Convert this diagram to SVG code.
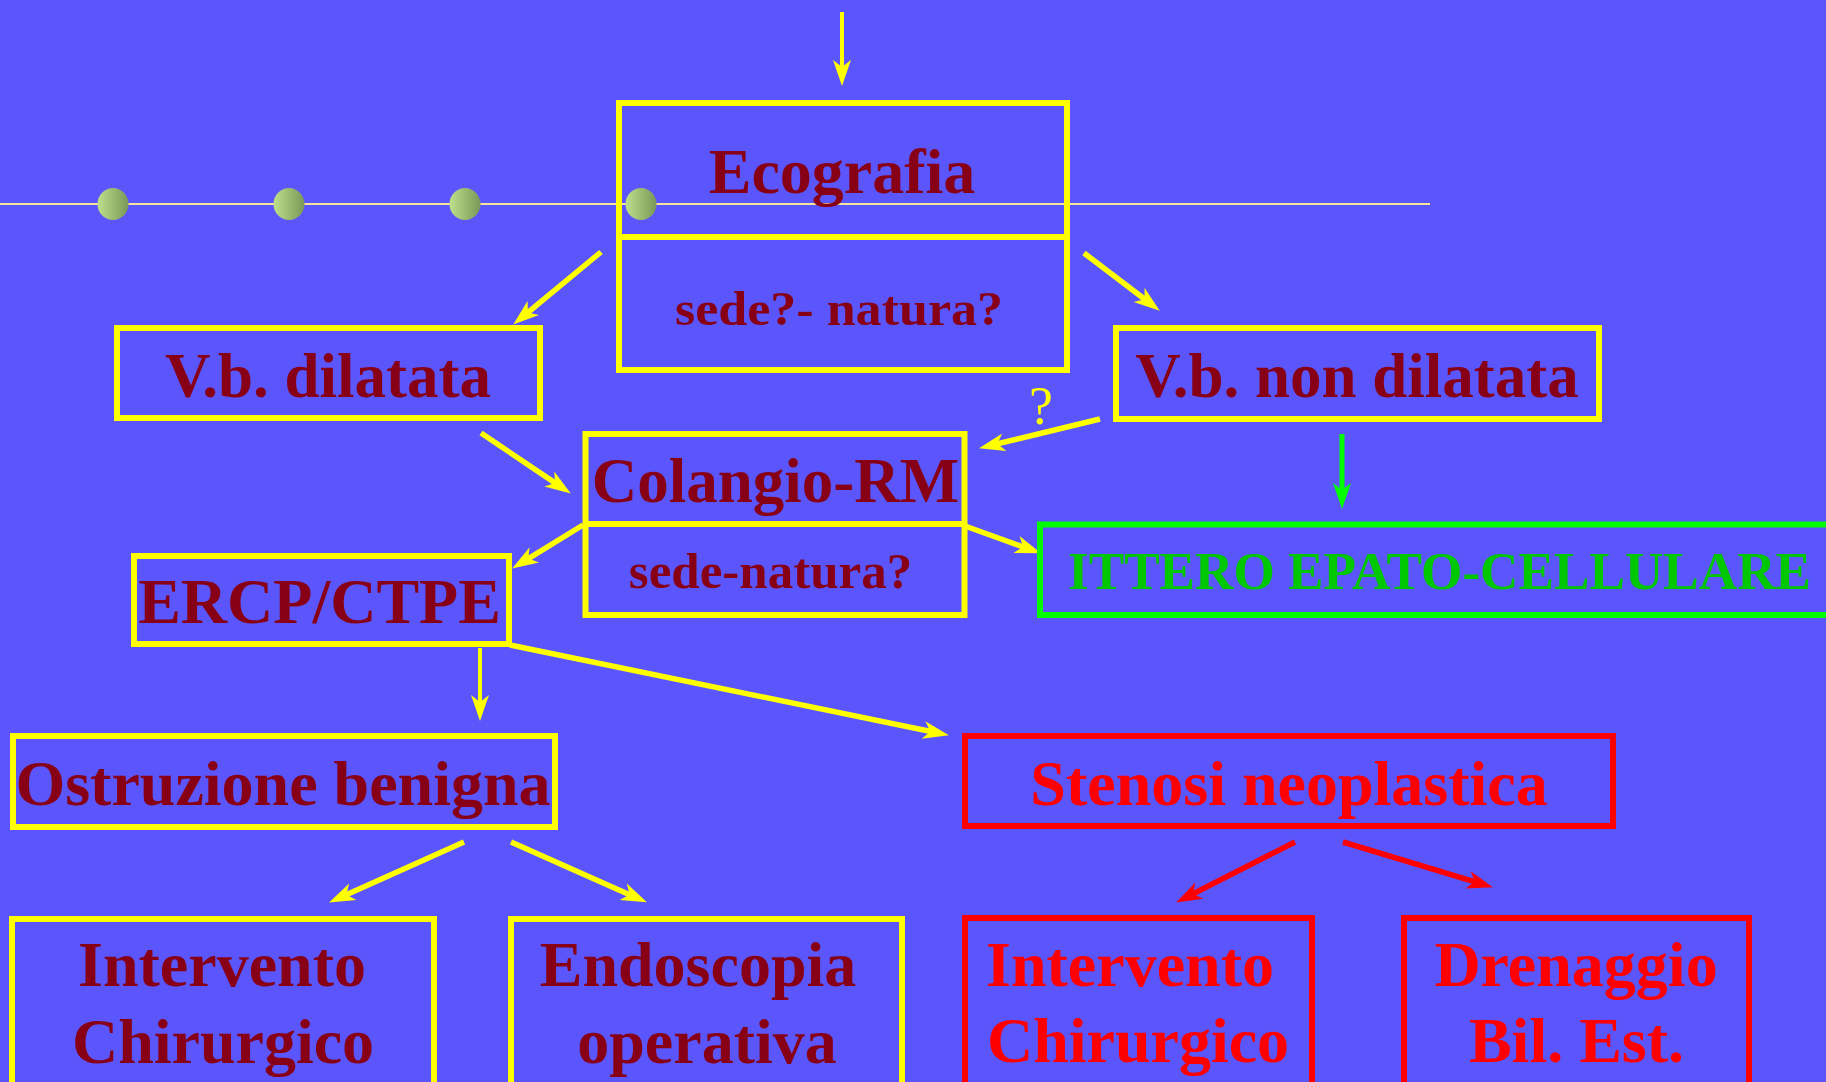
<svg xmlns="http://www.w3.org/2000/svg" width="1826" height="1082" viewBox="0 0 1826 1082">
<defs>
<style>
.bg{fill:#5b56fb}
.yb{fill:none;stroke:#ffff00;stroke-width:6}
.rb{fill:none;stroke:#ff0000;stroke-width:6}
.gb{fill:none;stroke:#00ff00;stroke-width:6}
.t{font-family:"Liberation Serif","Times New Roman",serif;font-weight:bold;text-anchor:middle}
.dr{fill:#880015}
.rd{fill:#ff0000}
.gt{fill:#00c800}
.ya{fill:none;stroke:#ffff00;stroke-width:5.5}
.yt{fill:none;stroke:#ffff00;stroke-width:4}
.ra{fill:none;stroke:#ff0000;stroke-width:5.5}
.ga{fill:none;stroke:#00ff00;stroke-width:5}
</style>
<marker id="ahY" markerUnits="userSpaceOnUse" markerWidth="28" markerHeight="20" refX="15" refY="9" orient="auto" overflow="visible">
<path d="M26,9 L0,0 L7,9 L0,18 Z" fill="#ffff00"/>
</marker>
<marker id="ahR" markerUnits="userSpaceOnUse" markerWidth="28" markerHeight="20" refX="15" refY="9" orient="auto" overflow="visible">
<path d="M26,9 L0,0 L7,9 L0,18 Z" fill="#ff0000"/>
</marker>
<marker id="ahG" markerUnits="userSpaceOnUse" markerWidth="28" markerHeight="20" refX="15" refY="9" orient="auto" overflow="visible">
<path d="M26,9 L0,0 L7,9 L0,18 Z" fill="#00ff00"/>
</marker>
<linearGradient id="dotg" x1="0" y1="0" x2="1" y2="0">
<stop offset="0" stop-color="#bde08a"/>
<stop offset="1" stop-color="#7a9858"/>
</linearGradient>
</defs>
<rect class="bg" x="0" y="0" width="1826" height="1082"/>

<g id="decor">
<line x1="0" y1="204" x2="1430" y2="204" stroke="#f3e49a" stroke-width="2"/>
<ellipse cx="113" cy="204" rx="15.5" ry="16" fill="url(#dotg)"/>
<ellipse cx="289" cy="204" rx="15.5" ry="16" fill="url(#dotg)"/>
<ellipse cx="465" cy="204" rx="15.5" ry="16" fill="url(#dotg)"/>
<ellipse cx="641" cy="204" rx="15.5" ry="16" fill="url(#dotg)"/>
</g>

<g id="connectors">
<path class="yt" d="M842,12 L842,75" marker-end="url(#ahY)"/>
<path class="ya" d="M601,252 L521.7,317.6" marker-end="url(#ahY)"/>
<path class="ya" d="M1084,253 L1151,304" marker-end="url(#ahY)"/>
<path class="ya" d="M1100,419 L989.7,445.7" marker-end="url(#ahY)"/>
<path class="ya" d="M481,433 L561.7,487.4" marker-end="url(#ahY)"/>
<path class="ya" d="M583,525 L521.5,562.8" marker-end="url(#ahY)"/>
<path class="ya" d="M965,526 L1030.6,549.6" marker-end="url(#ahY)"/>
<path class="ga" d="M1342,434 L1342,498" marker-end="url(#ahG)"/>
<path class="yt" d="M480,648 L480,710" marker-end="url(#ahY)"/>
<path class="ya" d="M510,645 L938.2,733" marker-end="url(#ahY)"/>
<path class="ya" d="M464,842 L339.1,897.9" marker-end="url(#ahY)"/>
<path class="ya" d="M511,842 L636.9,897.9" marker-end="url(#ahY)"/>
<path class="ra" d="M1295,842 L1185.9,897.5" marker-end="url(#ahR)"/>
<path class="ra" d="M1343,842 L1482.4,884.1" marker-end="url(#ahR)"/>
<text x="1041" y="424" font-family="'Liberation Serif','Times New Roman',serif" font-size="54" fill="#ffff00" text-anchor="middle">?</text>
</g>

<g id="ecografia">
<rect class="yb" x="619" y="103" width="448" height="267"/>
<line x1="619" y1="237" x2="1067" y2="237" stroke="#ffff00" stroke-width="6"/>
<text class="t dr" x="842" y="193" font-size="64">Ecografia</text>
<text class="t dr" x="839" y="325" font-size="48" textLength="328" lengthAdjust="spacingAndGlyphs">sede?- natura?</text>
</g>

<g id="vb-dilatata">
<rect class="yb" x="117" y="328" width="423" height="90"/>
<text class="t dr" x="328" y="397" font-size="63">V.b. dilatata</text>
</g>

<g id="vb-non-dilatata">
<rect class="yb" x="1116" y="328" width="483" height="91"/>
<text class="t dr" x="1357" y="397" font-size="63">V.b. non dilatata</text>
</g>

<g id="colangio-rm">
<rect class="yb" x="585.5" y="434" width="379" height="181"/>
<line x1="585.5" y1="524" x2="964.5" y2="524" stroke="#ffff00" stroke-width="6"/>
<text class="t dr" x="775.5" y="502" font-size="63">Colangio-RM</text>
<text class="t dr" x="770.5" y="588" font-size="51">sede-natura?</text>
</g>

<g id="ittero">
<rect class="gb" x="1040" y="524.5" width="820" height="90.5"/>
<text class="t gt" x="1439.5" y="589" font-size="53" textLength="743" lengthAdjust="spacingAndGlyphs">ITTERO EPATO-CELLULARE</text>
</g>

<g id="ercp">
<rect class="yb" x="134" y="556" width="375" height="88"/>
<text class="t dr" x="319.5" y="623" font-size="64">ERCP/CTPE</text>
</g>

<g id="ostruzione">
<rect class="yb" x="13" y="736" width="542" height="91"/>
<text class="t dr" x="283" y="805" font-size="64">Ostruzione benigna</text>
</g>

<g id="stenosi">
<rect class="rb" x="965" y="736" width="648" height="90"/>
<text class="t rd" x="1289" y="805" font-size="64">Stenosi neoplastica</text>
</g>

<g id="intervento-benigna">
<rect class="yb" x="12" y="919" width="422" height="200"/>
<text class="t dr" x="222" y="986" font-size="64">Intervento</text>
<text class="t dr" x="223" y="1063" font-size="64">Chirurgico</text>
</g>

<g id="endoscopia">
<rect class="yb" x="511" y="919" width="391" height="200"/>
<text class="t dr" x="698" y="986" font-size="64">Endoscopia</text>
<text class="t dr" x="707" y="1063" font-size="64">operativa</text>
</g>

<g id="intervento-neoplastica">
<rect class="rb" x="965" y="918" width="347" height="200"/>
<text class="t rd" x="1130" y="986" font-size="64">Intervento</text>
<text class="t rd" x="1138" y="1062" font-size="64">Chirurgico</text>
</g>

<g id="drenaggio">
<rect class="rb" x="1404" y="918" width="345" height="200"/>
<text class="t rd" x="1576" y="986" font-size="64">Drenaggio</text>
<text class="t rd" x="1576.5" y="1062" font-size="64">Bil. Est.</text>
</g>
</svg>
